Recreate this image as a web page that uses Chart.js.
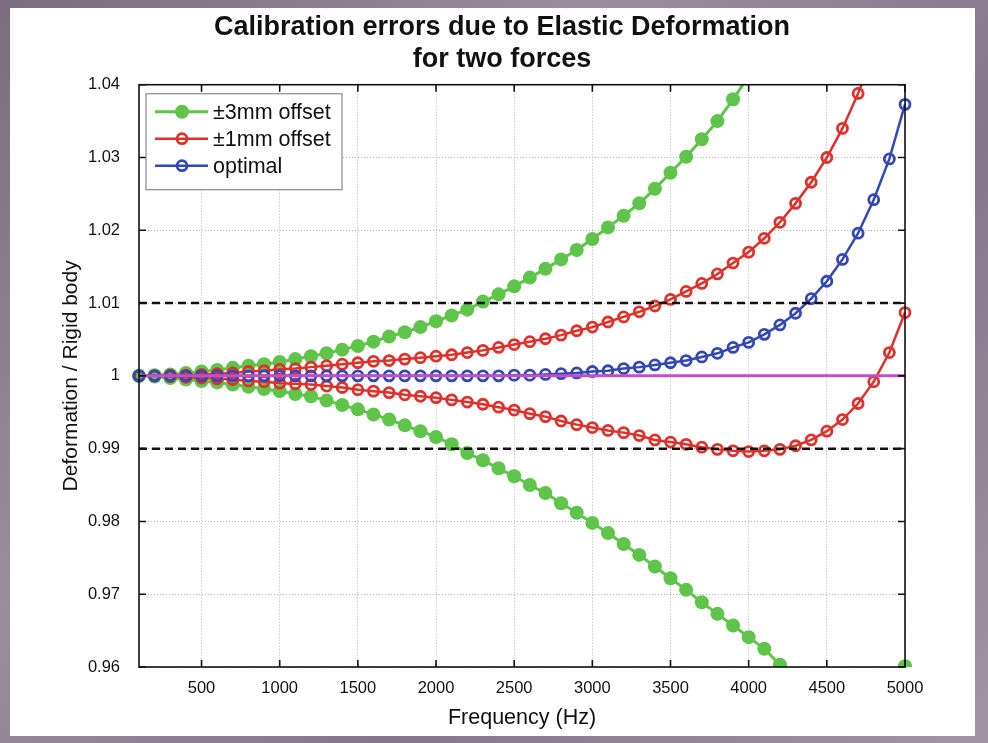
<!DOCTYPE html>
<html>
<head>
<meta charset="utf-8">
<script src="https://cdn.jsdelivr.net/npm/chart.js@4.4.1/dist/chart.umd.min.js"></script>
<style>
  html, body { margin: 0; padding: 0; }
  body {
    width: 988px; height: 743px; overflow: hidden; position: relative;
    background: linear-gradient(135deg, #7b6c7e 0%, #9b8d9d 35%, #85768a 65%, #a294a3 100%);
  }
  #panel { position: absolute; left: 10px; top: 8px; width: 965px; height: 728px; background: #fff; }
  #myChart { display: block; }
</style>
</head>
<body>
<div id="panel"><canvas id="myChart" width="965" height="728"></canvas></div>
<script>
// frequency in Hz
var freq = [100, 200, 300, 400, 500, 600, 700, 800, 900, 1000,
    1100, 1200, 1300, 1400, 1500, 1600, 1700, 1800, 1900, 2000,
    2100, 2200, 2300, 2400, 2500, 2600, 2700, 2800, 2900, 3000,
    3100, 3200, 3300, 3400, 3500, 3600, 3700, 3800, 3900, 4000,
    4100, 4200, 4300, 4400, 4500, 4600, 4700, 4800, 4900, 5000];

// deformation / rigid body ratios
var plus3mm = [1.0000, 1.0001, 1.0002, 1.0004, 1.0006, 1.0008, 1.0011, 1.0014, 1.0016, 1.0019,
    1.0023, 1.0027, 1.0031, 1.0036, 1.0041, 1.0047, 1.0054, 1.0060, 1.0067, 1.0075,
    1.0083, 1.0091, 1.0102, 1.0112, 1.0123, 1.0135, 1.0147, 1.0160, 1.0173, 1.0188,
    1.0204, 1.0220, 1.0237, 1.0257, 1.0279, 1.0301, 1.0325, 1.0350, 1.0380, 1.0412,
    null, null, null, null, null, null, null, null, null, null];
var minus3mm = [1.0000, 0.9999, 0.9997, 0.9995, 0.9993, 0.9991, 0.9988, 0.9985, 0.9982, 0.9979,
    0.9975, 0.9972, 0.9966, 0.9960, 0.9954, 0.9947, 0.9940, 0.9932, 0.9924, 0.9916,
    0.9906, 0.9894, 0.9884, 0.9873, 0.9862, 0.9850, 0.9839, 0.9825, 0.9812, 0.9798,
    0.9784, 0.9769, 0.9754, 0.9738, 0.9722, 0.9706, 0.9689, 0.9673, 0.9657, 0.9641,
    0.9625, 0.9603, 0.9585, null, null, null, null, null, null, 0.9601];
var plus1mm = [1.0000, 1.0000, 1.0001, 1.0001, 1.0002, 1.0003, 1.0004, 1.0006, 1.0007, 1.0009,
    1.0010, 1.0012, 1.0014, 1.0016, 1.0018, 1.0020, 1.0021, 1.0023, 1.0025, 1.0027,
    1.0029, 1.0032, 1.0035, 1.0039, 1.0043, 1.0047, 1.0051, 1.0056, 1.0062, 1.0067,
    1.0074, 1.0081, 1.0088, 1.0096, 1.0105, 1.0116, 1.0127, 1.0140, 1.0155, 1.0170,
    1.0189, 1.0211, 1.0237, 1.0266, 1.0300, 1.0340, 1.0388, 1.0445, null, null];
var minus1mm = [1.0000, 1.0000, 0.9999, 0.9998, 0.9997, 0.9996, 0.9995, 0.9993, 0.9992, 0.9990,
    0.9989, 0.9988, 0.9986, 0.9984, 0.9981, 0.9979, 0.9977, 0.9974, 0.9972, 0.9970,
    0.9967, 0.9964, 0.9961, 0.9957, 0.9953, 0.9948, 0.9944, 0.9938, 0.9933, 0.9929,
    0.9925, 0.9922, 0.9918, 0.9912, 0.9909, 0.9906, 0.9902, 0.9899, 0.9897, 0.9896,
    0.9897, 0.9899, 0.9904, 0.9912, 0.9924, 0.9940, 0.9962, 0.9992, 1.0032, 1.0087];
var optimal = [1.0000, 1.0000, 1.0000, 1.0000, 1.0000, 1.0000, 1.0000, 1.0000, 1.0000, 1.0000,
    1.0000, 1.0000, 1.0000, 1.0000, 1.0000, 1.0000, 1.0000, 1.0000, 1.0000, 1.0000,
    1.0000, 1.0000, 1.0000, 1.0000, 1.0001, 1.0001, 1.0002, 1.0003, 1.0004, 1.0006,
    1.0007, 1.0010, 1.0012, 1.0015, 1.0018, 1.0021, 1.0026, 1.0031, 1.0039, 1.0046,
    1.0057, 1.0070, 1.0086, 1.0106, 1.0130, 1.0160, 1.0196, 1.0242, 1.0298, 1.0373];

// reference levels (ideal ratio and +/-1% band)
var idealLevel = 1.0;
var tolUpper = 1.01;
var tolLower = 0.99;

var xTicks = [500, 1000, 1500, 2000, 2500, 3000, 3500, 4000, 4500, 5000];
var yTicks = [0.96, 0.97, 0.98, 0.99, 1.00, 1.01, 1.02, 1.03, 1.04];

var green = '#5ec44a', red = '#e0302a', blue = '#3447b8', magenta = '#c24fc6';

function pts(values) {
    return freq.map(function (f, i) { return {x: f, y: values[i]}; });
}
function flat(v) {
    return [{x: freq[0], y: v}, {x: freq[freq.length - 1], y: v}];
}

var clipSides = {left: 8, right: 8, top: 0, bottom: 0};

var datasets = [
    {label: '±3mm offset', legend: true, data: pts(plus3mm), borderColor: green, backgroundColor: green,
        borderWidth: 3, pointRadius: 7, pointBorderWidth: 0, pointBackgroundColor: green, order: 5, clip: clipSides},
    {label: '±3mm offset', data: pts(minus3mm), borderColor: green, backgroundColor: green,
        borderWidth: 3, pointRadius: 7, pointBorderWidth: 0, pointBackgroundColor: green, order: 5, clip: clipSides},
    {label: '±1mm offset', legend: true, data: pts(plus1mm), borderColor: red, backgroundColor: 'transparent',
        borderWidth: 2.5, pointRadius: 5, pointBorderWidth: 2.8, pointBorderColor: red, pointBackgroundColor: 'transparent', order: 4, clip: clipSides},
    {label: '±1mm offset', data: pts(minus1mm), borderColor: red, backgroundColor: 'transparent',
        borderWidth: 2.5, pointRadius: 5, pointBorderWidth: 2.8, pointBorderColor: red, pointBackgroundColor: 'transparent', order: 4, clip: clipSides},
    {label: 'optimal', legend: true, data: pts(optimal), borderColor: blue, backgroundColor: 'transparent',
        borderWidth: 2.5, pointRadius: 5, pointBorderWidth: 2.8, pointBorderColor: blue, pointBackgroundColor: 'transparent', order: 3, clip: clipSides},
    {label: 'ideal', data: flat(idealLevel), borderColor: magenta, borderWidth: 3, pointRadius: 0, order: 2},
    {label: 'upper limit', data: flat(tolUpper), borderColor: '#111', borderWidth: 2.5, borderDash: [8, 5], pointRadius: 0, order: 1},
    {label: 'lower limit', data: flat(tolLower), borderColor: '#111', borderWidth: 2.5, borderDash: [8, 5], pointRadius: 0, order: 1}
];

// MATLAB style box, inward ticks and legend inside the axes
var matlabBox = {
    id: 'matlabBox',
    afterDatasetsDraw: function (chart) {
        var ctx = chart.ctx, a = chart.chartArea;
        var xs = chart.scales.x, ys = chart.scales.y;
        ctx.save();
        ctx.strokeStyle = '#111';
        ctx.lineWidth = 1.6;
        ctx.strokeRect(a.left, a.top, a.right - a.left, a.bottom - a.top);
        ctx.beginPath();
        xTicks.forEach(function (t) {
            var px = xs.getPixelForValue(t);
            ctx.moveTo(px, a.bottom); ctx.lineTo(px, a.bottom - 7);
            ctx.moveTo(px, a.top); ctx.lineTo(px, a.top + 7);
        });
        yTicks.forEach(function (t) {
            var py = ys.getPixelForValue(t);
            ctx.moveTo(a.left, py); ctx.lineTo(a.left + 7, py);
            ctx.moveTo(a.right, py); ctx.lineTo(a.right - 7, py);
        });
        ctx.stroke();

        // legend
        var bx = a.left + 7, by = a.top + 9, bw = 196, bh = 96;
        ctx.fillStyle = '#fff';
        ctx.fillRect(bx, by, bw, bh);
        ctx.strokeStyle = '#8a8a8a';
        ctx.lineWidth = 1.2;
        ctx.strokeRect(bx, by, bw, bh);
        var row = 0;
        chart.data.datasets.forEach(function (ds) {
            if (!ds.legend) return;
            var cy = by + 18 + row * 27;
            ctx.strokeStyle = ds.borderColor;
            ctx.lineWidth = ds.borderWidth;
            ctx.setLineDash([]);
            ctx.beginPath();
            ctx.moveTo(bx + 9, cy); ctx.lineTo(bx + 62, cy);
            ctx.stroke();
            ctx.beginPath();
            ctx.arc(bx + 36, cy, ds.pointRadius, 0, Math.PI * 2);
            if (ds.pointBorderWidth) {
                ctx.lineWidth = ds.pointBorderWidth;
                ctx.strokeStyle = ds.pointBorderColor;
                ctx.stroke();
            } else {
                ctx.fillStyle = ds.pointBackgroundColor;
                ctx.fill();
            }
            ctx.fillStyle = '#111';
            ctx.font = '21.5px "Liberation Sans", Arial, sans-serif';
            ctx.textBaseline = 'middle';
            ctx.textAlign = 'left';
            ctx.fillText(ds.label, bx + 67, cy + 1);
            row++;
        });
        ctx.restore();
    }
};

Chart.defaults.font.family = '"Liberation Sans", Arial, Helvetica, sans-serif';
Chart.defaults.color = '#111';

var ctx = document.getElementById('myChart').getContext('2d');
var myChart = new Chart(ctx, {
    type: 'line',
    data: {datasets: datasets},
    plugins: [matlabBox],
    options: {
        responsive: false,
        animation: false,
        devicePixelRatio: 1,
        events: [],
        layout: {padding: {left: 19, right: 0, top: 0, bottom: 0}},
        plugins: {
            legend: {display: false},
            tooltip: {enabled: false},
            title: {
                display: true,
                text: ['Calibration errors due to Elastic Deformation', 'for two forces'],
                color: '#111',
                font: {size: 27, weight: 'bold', lineHeight: 1.18},
                padding: {top: 4, bottom: 9}
            }
        },
        scales: {
            x: {
                type: 'linear',
                min: 100,
                max: 5000,
                afterBuildTicks: function (axis) { axis.ticks = xTicks.map(function (v) { return {value: v}; }); },
                afterFit: function (scale) { scale.height = 69; },
                ticks: {
                    font: {size: 16.5}, padding: 12, maxRotation: 0, autoSkip: false,
                    callback: function (v) { return String(v); }
                },
                grid: {color: '#b5b5b5', lineWidth: 1, drawTicks: false},
                border: {display: false, dash: [1, 2]},
                title: {display: true, text: 'Frequency (Hz)', font: {size: 21.5}, padding: {top: 0, bottom: 5}}
            },
            y: {
                type: 'linear',
                min: 0.96,
                max: 1.04,
                afterBuildTicks: function (axis) { axis.ticks = yTicks.map(function (v) { return {value: v}; }); },
                afterFit: function (scale) { scale.width = 110; },
                ticks: {
                    font: {size: 16.5}, padding: 19,
                    callback: function (v) { return String(Number(v.toFixed(2))); }
                },
                grid: {color: '#b5b5b5', lineWidth: 1, drawTicks: false},
                border: {display: false, dash: [1, 2]},
                title: {display: true, text: 'Deformation / Rigid body', font: {size: 21}, padding: {top: 30, bottom: 0}}
            },
            y2: {
                type: 'linear',
                position: 'right',
                display: true,
                afterFit: function (scale) { scale.width = 70; },
                ticks: {display: false},
                grid: {display: false, drawTicks: false},
                border: {display: false}
            }
        }
    }
});
</script>
</body>
</html>
